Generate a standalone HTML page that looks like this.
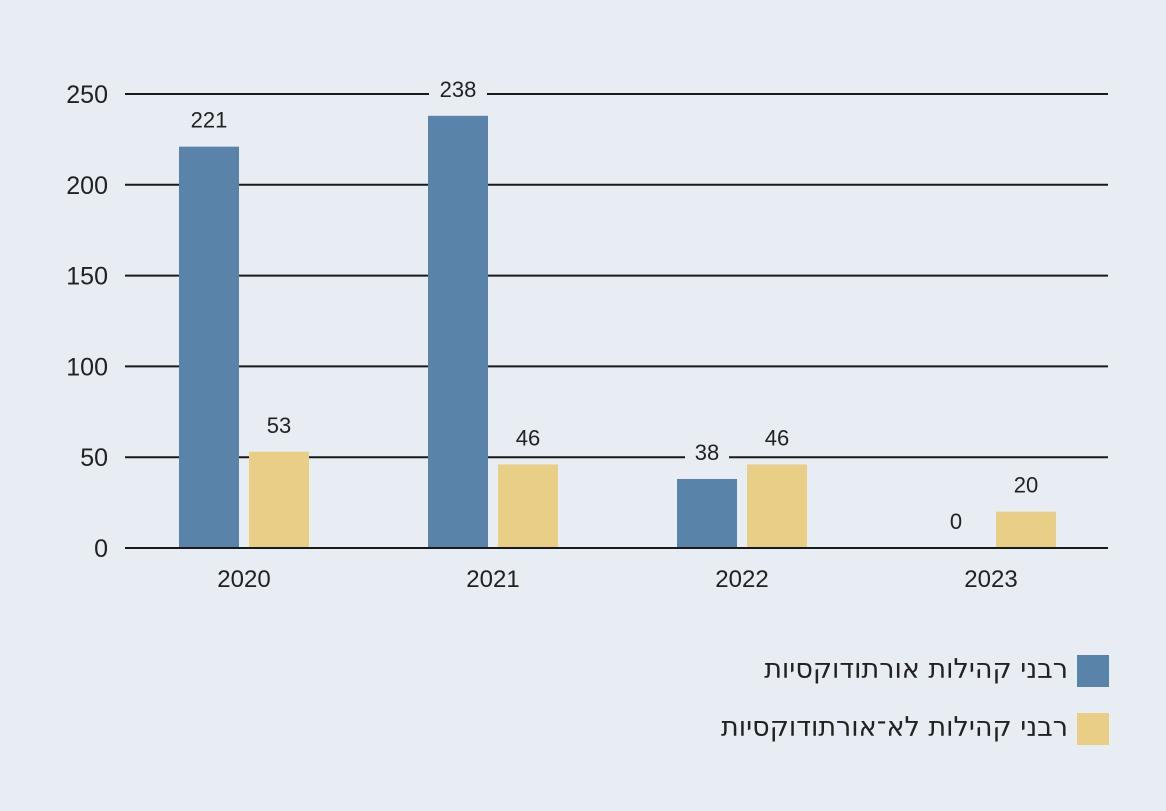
<!DOCTYPE html>
<html><head><meta charset="utf-8"><style>
body{margin:0;background:#e8ecf3;position:relative;width:1166px;height:811px;overflow:hidden;}
svg{display:block;font-family:"Liberation Sans","DejaVu Sans",sans-serif;}
.lg{position:absolute;right:98px;font-family:"DejaVu Sans",sans-serif;font-size:27px;color:#222;direction:rtl;text-align:right;white-space:nowrap;line-height:32px;}
</style></head><body>
<svg id="chart" width="1166" height="811" viewBox="0 0 1166 811">
<rect width="1166" height="811" fill="#e8ecf3"/>
<g id="grid"></g><g id="bars"></g>
<g>
<rect x="1077" y="655" width="32" height="32" fill="#5a83aa"/>
<rect x="1077" y="713" width="32" height="32" fill="#e8cf85"/>
</g>
</svg>
<div class="lg" style="top:654px">רבני קהילות אורתודוקסיות</div>
<div class="lg" style="top:712px">רבני קהילות לא־אורתודוקסיות</div>
<script>
const categories=["2020","2021","2022","2023"];
const orthodox=[221,238,38,0];
const nonOrthodox=[53,46,46,20];
const ticks=[0,50,100,150,200,250];
const NS="http://www.w3.org/2000/svg";
const y=v=>548-v*(454/250);
const x=i=>244+i*249;
function mk(tag,attrs,parent,text){const e=document.createElementNS(NS,tag);for(const k in attrs)e.setAttribute(k,attrs[k]);if(text!==undefined)e.textContent=text;parent.appendChild(e);return e;}
const grid=document.getElementById('grid'),bars=document.getElementById('bars');
ticks.forEach(t=>{
 const l=mk('line',{x1:125,x2:1108,y1:y(t),y2:y(t),stroke:'#1a1a1a','stroke-width':2},grid);
 
 
 const tx=mk('text',{x:108,y:y(t)+9,'text-anchor':'end','font-size':25,fill:'#222'},grid,String(t));
 
 
});
function bar(cx,v,color,name){
 const r=mk('rect',{x:cx-30,y:y(v),width:60,height:548-y(v),fill:color},bars);
 
 
 const bw=String(v).length*14+16;
 const bg=mk('rect',{x:cx-bw/2,y:y(v)-42,width:bw,height:30,fill:'#e8ecf3'},bars);
 
 
 const t=mk('text',{x:cx,y:y(v)-19,'text-anchor':'middle','font-size':22,fill:'#222'},bars,String(v));
 
 
}
categories.forEach((c,i)=>{
 bar(x(i)-35,orthodox[i],'#5a83aa','bar-orthodox-'+c);
 bar(x(i)+35,nonOrthodox[i],'#e8cf85','bar-non-orthodox-'+c);
 const t=mk('text',{x:x(i),y:587,'text-anchor':'middle','font-size':24,fill:'#222'},bars,c);
 
 
});
mk('line',{x1:125,x2:1108,y1:548,y2:548,stroke:'#1a1a1a','stroke-width':2},bars);
</script>
</body></html>
